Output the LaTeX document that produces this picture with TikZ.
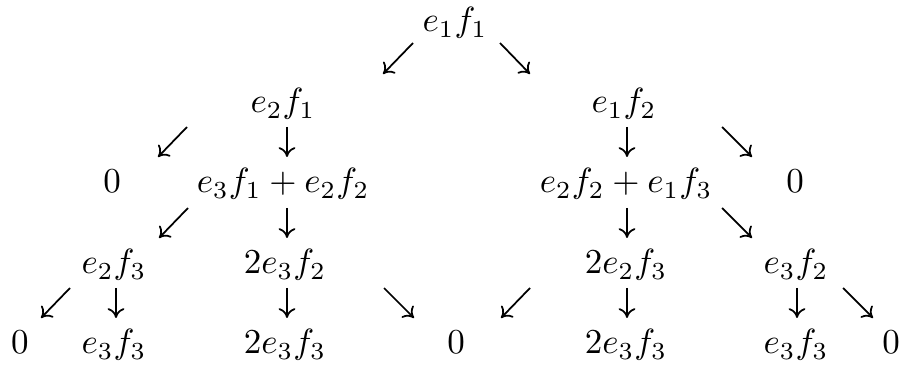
\documentclass[tikz,border=0pt]{standalone}
\usetikzlibrary{arrows.meta}
\begin{document}
\begin{tikzpicture}[x=0.2857pt,y=-0.2857pt,
  term/.style={anchor=base,inner sep=0pt},
  arr/.style={-{Computer Modern Rightarrow[length=2.8pt,width=4.8pt]},line width=0.5pt}]
\useasboundingbox (0,0) rectangle (906,367);
% terms
\node[term] (n11) at (455,32) {$e_1f_1$};
\node[term] (n21) at (283,113) {$e_2f_1$};
\node[term] (n22) at (624,113) {$e_1f_2$};
\node[term] (n31) at (112,193) {$0$};
\node[term] (n32) at (283,193) {$e_3f_1+e_2f_2$};
\node[term] (n33) at (626,193) {$e_2f_2+e_1f_3$};
\node[term] (n34) at (795,193) {$0$};
\node[term] (n41) at (114,274) {$e_2f_3$};
\node[term] (n42) at (285,274) {$2e_3f_2$};
\node[term] (n43) at (626,274) {$2e_2f_3$};
\node[term] (n44) at (796,274) {$e_3f_2$};
\node[term] (n51) at (20,354) {$0$};
\node[term] (n52) at (114,354) {$e_3f_3$};
\node[term] (n53) at (285,354) {$2e_3f_3$};
\node[term] (n54) at (456,354) {$0$};
\node[term] (n55) at (626,354) {$2e_3f_3$};
\node[term] (n56) at (796,354) {$e_3f_3$};
\node[term] (n57) at (891,354) {$0$};
% arrow end points
\coordinate (a1s) at (413,43);  \coordinate (a1e) at (383,74);
\coordinate (a2s) at (500,43);  \coordinate (a2e) at (530,74);
\coordinate (b1s) at (187,127); \coordinate (b1e) at (158,157);
\coordinate (b2s) at (287,127); \coordinate (b2e) at (287,157);
\coordinate (b3s) at (627,127); \coordinate (b3e) at (627,157);
\coordinate (b4s) at (722,127); \coordinate (b4e) at (752,157);
\coordinate (c1s) at (188,208); \coordinate (c1e) at (159,238);
\coordinate (c2s) at (287,208); \coordinate (c2e) at (287,238);
\coordinate (c3s) at (627,208); \coordinate (c3e) at (627,238);
\coordinate (c4s) at (722,208); \coordinate (c4e) at (752,238);
\coordinate (d1s) at (70,288);  \coordinate (d1e) at (41,318);
\coordinate (d2s) at (116,288); \coordinate (d2e) at (116,318);
\coordinate (d3s) at (287,288); \coordinate (d3e) at (287,318);
\coordinate (d4s) at (384,288); \coordinate (d4e) at (414,318);
\coordinate (d5s) at (530,288); \coordinate (d5e) at (501,318);
\coordinate (d6s) at (627,288); \coordinate (d6e) at (627,318);
\coordinate (d7s) at (797,288); \coordinate (d7e) at (797,318);
\coordinate (d8s) at (843,288); \coordinate (d8e) at (873,318);
% arrows
\foreach \a in {a1,a2,b1,b2,b3,b4,c1,c2,c3,c4,d1,d2,d3,d4,d5,d6,d7,d8}
  \draw[arr] (\a s) -- (\a e);
\end{tikzpicture}
\end{document}
